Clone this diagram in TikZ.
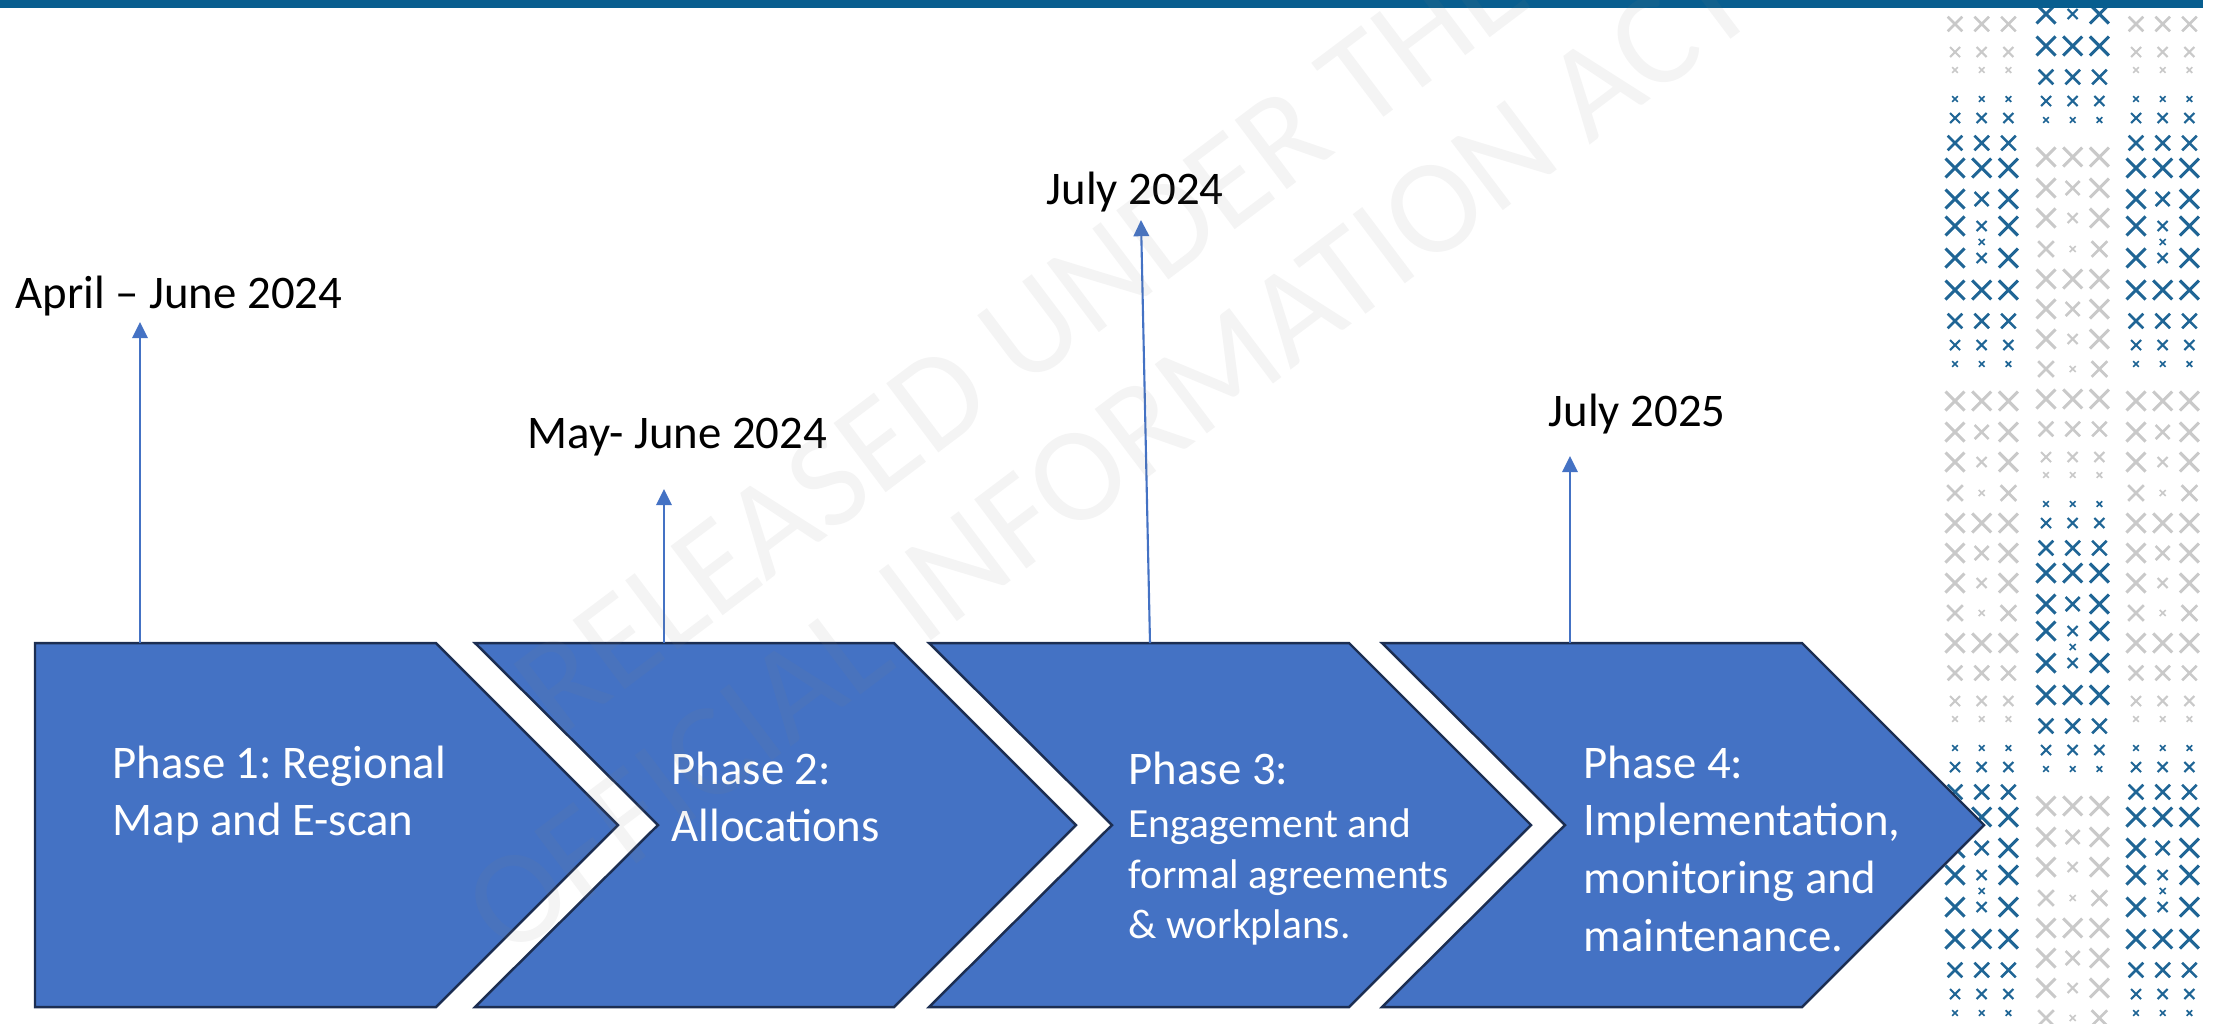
\documentclass[tikz,border=0pt]{standalone}
\usepackage{fontspec}
\setmainfont{Carlito}
\frenchspacing
\usetikzlibrary{arrows.meta, positioning}
\definecolor{chevblue}{HTML}{4472C4}
\definecolor{chevline}{HTML}{1C2E52}
\definecolor{barblue}{HTML}{085E8F}
\definecolor{xblue}{HTML}{1F6595}
\definecolor{xgray}{HTML}{C9C9C9}
% one period of the cross pattern: offset / left / middle / right half size / colour
\def\crossrows{0/2.8/2.8/2.8/xblue, 19/5/5/5/xblue, 44/7.3/7.3/7.3/xblue,
  69/9.5/9.5/9.5/xblue, 100/9.5/7/9.5/xblue, 127/9.5/5/9.5/xblue,
  143/0/3/0/xblue, 159/9.5/5/9.5/xblue, 191/9.5/9.5/9.5/xblue,
  222/7.3/7.3/7.3/xblue, 246/5/5/5/xblue, 265/2.8/2.8/2.8/xblue,
  302/9.5/9.5/9.5/xgray, 333/9.5/7/9.5/xgray, 363/9.5/5/9.5/xgray,
  394/7.8/3/7.8/xgray, 424/9.5/9.5/9.5/xgray, 454/9.5/7/9.5/xgray,
  484/9.5/5/9.5/xgray, 514/7.8/3/7.8/xgray, 544/9.5/9.5/9.5/xgray,
  574/7.3/7.3/7.3/xgray, 602/5/5/5/xgray, 620/2.8/2.8/2.8/xgray}

\begin{document}
\begin{tikzpicture}[
  x=0.01cm, y=-0.01cm,
  chevron/.style={fill=chevblue, draw=chevline, line width=0.7pt},
  phase/.style={
    text=white,
    align=left,
    anchor=north west,
    inner sep=0pt,
    font=\fontsize{13.3}{16.4}\selectfont
  },
  phasesmall/.style={phase, font=\fontsize{11.8}{14.4}\selectfont},
  datebox/.style={anchor=base west, inner sep=0pt, font=\fontsize{13.3}{16}\selectfont},
  arrow/.style={-{Triangle[length=4.6pt, width=4.4pt]}, line width=0.6pt, chevblue}
]
  \useasboundingbox (0,0) rectangle (2214,1023);

  % decoration on the right
  \begin{scope}
    \clip (0,0) rectangle (2214,1023);
    \foreach \gx/\tz in {1955/-550, 1955/99, 1955/748, 2046/-145, 2046/504,
                         2136/-550, 2136/99, 2136/748}
      \foreach \dy/\a/\b/\c/\cc in \crossrows
        \foreach \cx/\s in {0/\a, 26.7/\b, 53.4/\c} {
          \ifdim\s pt>0pt
            \draw[draw=\cc, line width=0.3pt+0.06pt*\s]
              (\gx+\cx-\s, \tz+\dy-\s) -- ++(2*\s, 2*\s)
              (\gx+\cx-\s, \tz+\dy+\s) -- ++(2*\s, -2*\s);
          \fi
        }
  \end{scope}
  \fill[barblue] (0,0) rectangle (2203,7.5);

  % chevrons
  \draw[chevron] (35,643) -- (436,643) -- (618,825) -- (436,1007) -- (35,1007) -- cycle;
  \foreach \xl/\xr in {475/894, 929/1349, 1382/1802}
    \draw[chevron] (\xl,643) -- (\xr,643) -- (\xr+182,825) -- (\xr,1007)
      -- (\xl,1007) -- (\xl+183,825) -- cycle;

  \node[phase] (ph1) at (112,745) {Phase 1: Regional\\Map and E-scan};
  \node[phase] (ph2) at (671,751) {Phase 2:\\Allocations};
  \node[phase] (ph3) at (1128,751) {Phase 3:};
  \node[phasesmall] (ph3b) at (1128,808) {Engagement and\\formal agreements\\\& workplans.};
  \node[phase] (ph4) at (1583,745) {Phase 4:\\Implementation,\\monitoring and\\maintenance.};

  % dates
  \node[datebox] (aprjun) at (15,308) {April – June 2024};
  \node[datebox] (mayjun) at (527,448) {May- June 2024};
  \node[datebox] (jul24) at (1046,204) {July 2024};
  \node[datebox] (jul25) at (1548,426) {July 2025};

  \coordinate (foot1) at (140,643);  \coordinate (tip1) at (140,322);
  \coordinate (foot2) at (664,643);  \coordinate (tip2) at (664,489);
  \coordinate (foot3) at (1150,643); \coordinate (tip3) at (1141,220);
  \coordinate (foot4) at (1570,643); \coordinate (tip4) at (1570,456);
  \draw[arrow] (foot1) -- (tip1);
  \draw[arrow] (foot2) -- (tip2);
  \draw[arrow] (foot3) -- (tip3);
  \draw[arrow] (foot4) -- (tip4);

  % release stamp
  \node[rotate=37, align=center, text=gray, text opacity=0.09,
        font=\fontsize{38.4}{41.5}\selectfont] (stamp) at (1065,395)
        {RELEASED UNDER THE\\OFFICIAL INFORMATION ACT};
\end{tikzpicture}
\end{document}
